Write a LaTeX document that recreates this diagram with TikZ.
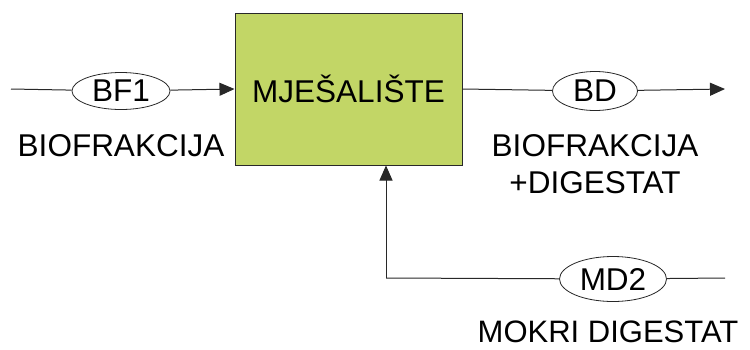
\documentclass[tikz,border=0pt]{standalone}
\usepackage{fontspec}
\setmainfont{Liberation Sans}
\usepackage{tikz}
\usetikzlibrary{arrows.meta, shapes.geometric}
\definecolor{mixGreen}{RGB}{194, 214, 102}
\definecolor{lineGray}{RGB}{40, 40, 40}

\begin{document}
\begin{tikzpicture}[x=1pt, y=-1pt, >={Triangle[length=15pt, width=13pt]},
    font=\fontsize{31.5}{37}\selectfont,
    stream/.style={ellipse, draw=lineGray, line width=0.8pt, inner sep=0pt, fill=white},
    flow/.style={draw=lineGray, line width=1pt}]
  \useasboundingbox (0,0) rectangle (750,349);

  % Mixer
  \node[draw=lineGray, line width=1pt, fill=mixGreen, minimum width=227pt,
        minimum height=152pt, inner sep=0pt] (mix) at (348.5, 89) {};
  \node (mixtxt) at (348.5, 89) {MJEŠALIŠTE};

  % Streams
  \node[stream, minimum width=98pt, minimum height=37pt] (bf1) at (121, 91) {BF1};
  \node[stream, minimum width=85pt, minimum height=39pt] (bd) at (595, 91) {BD};
  \node[stream, minimum width=107pt, minimum height=45pt] (md2) at (613, 279) {MD2};

  \coordinate (inL) at (11, 89);
  \coordinate (outR) at (725, 89);
  \coordinate (fbR) at (725, 278);
  \coordinate (fbC) at (386, 278);

  \draw[flow] (inL) -- (bf1);
  \draw[flow, ->] (bf1) -- (mix.west |- inL);
  \draw[flow] (mix.east |- outR) -- (bd);
  \draw[flow, ->] (bd) -- (outR);
  \draw[flow] (fbR) -- (md2);
  \draw[flow] (md2) -- (fbC);
  \draw[flow, ->] (fbC) -- (fbC |- mix.south);

  % Labels
  \node (lbf) at (121, 146) {BIOFRAKCIJA};
  \node[align=center] (lbd) at (595, 164) {BIOFRAKCIJA\\+DIGESTAT};
  \node[inner sep=0pt, font=\fontsize{31}{37}\selectfont] (lmd) at (608, 332) {MOKRI DIGESTAT};
\end{tikzpicture}
\end{document}
